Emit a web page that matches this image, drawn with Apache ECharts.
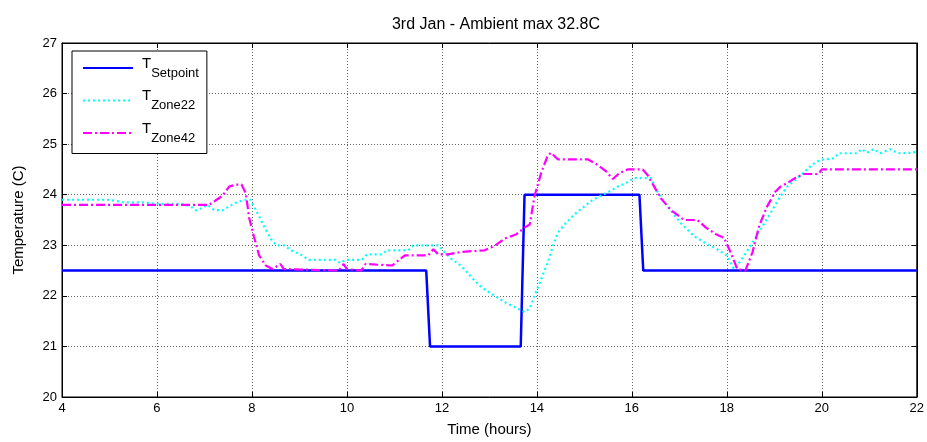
<!DOCTYPE html>
<html>
<head>
<meta charset="utf-8">
<script src="https://cdn.jsdelivr.net/npm/echarts@6/dist/echarts.min.js"></script>
<style>html,body{margin:0;padding:0;background:#fff}#c{width:927px;height:442px}</style>
</head>
<body>
<div id="c"></div>
<script>
var chartTitle = '3rd Jan - Ambient max 32.8C';
var xTicks = [4, 6, 8, 10, 12, 14, 16, 18, 20, 22];
var yTicks = [20, 21, 22, 23, 24, 25, 26, 27];

var setpointHours = [4, 11.67, 11.75, 13.66, 13.74, 16.16, 16.24, 22];
var setpointTemps = [22.5, 22.5, 21, 21, 24, 24, 22.5, 22.5];

var zone22Hours = [4, 4.5, 5.0, 5.3, 5.7, 6.0, 6.5, 6.71, 6.82, 6.96, 7.06, 7.2, 7.38, 7.52, 7.66, 7.83, 7.97, 8.15, 8.29, 8.43, 8.53, 8.67, 8.85, 9.02, 9.2, 9.76, 9.86, 9.97, 10.31, 10.42, 10.73, 10.84, 11.29, 11.4, 11.92, 12.2, 12.41, 12.62, 12.83, 13.11, 13.39, 13.6, 13.74, 13.85, 13.95, 14.09, 14.23, 14.34, 14.44, 14.62, 14.79, 15.0, 15.18, 15.39, 15.56, 15.7, 15.88, 16.05, 16.4, 16.54, 16.75, 17.03, 17.31, 17.59, 17.8, 18.01, 18.15, 18.29, 18.5, 18.71, 18.92, 19.13, 19.27, 19.44, 19.62, 19.79, 19.97, 20.25, 20.36, 20.74, 20.84, 20.95, 21.09, 21.23, 21.44, 21.61, 21.93, 22];
var zone22Temps = [23.9, 23.9, 23.9, 23.85, 23.85, 23.82, 23.82, 23.77, 23.69, 23.74, 23.8, 23.7, 23.69, 23.77, 23.84, 23.9, 23.9, 23.57, 23.31, 23.08, 23.0, 23.0, 22.89, 22.82, 22.71, 22.71, 22.65, 22.71, 22.71, 22.82, 22.82, 22.9, 22.9, 23.0, 23.0, 22.73, 22.59, 22.37, 22.17, 22.0, 21.84, 21.75, 21.68, 21.75, 22.0, 22.33, 22.66, 22.99, 23.25, 23.45, 23.61, 23.77, 23.9, 24.0, 24.08, 24.16, 24.23, 24.33, 24.33, 24.06, 23.77, 23.44, 23.18, 23.02, 22.92, 22.79, 22.53, 22.69, 22.99, 23.31, 23.64, 23.97, 24.16, 24.29, 24.44, 24.59, 24.69, 24.72, 24.82, 24.82, 24.9, 24.83, 24.9, 24.82, 24.9, 24.82, 24.83, 24.88];

var zone42Hours = [4, 7.1, 7.24, 7.38, 7.52, 7.66, 7.78, 7.87, 7.94, 8.04, 8.15, 8.29, 8.43, 8.6, 8.67, 9.83, 9.93, 10.0, 10.3, 10.39, 10.95, 11.22, 11.71, 11.82, 11.92, 12.13, 12.41, 12.9, 13.11, 13.32, 13.57, 13.74, 13.85, 13.95, 14.09, 14.23, 14.3, 14.44, 15.07, 15.28, 15.46, 15.6, 15.74, 15.91, 16.23, 16.33, 16.47, 16.61, 16.82, 17.1, 17.38, 17.56, 17.77, 17.94, 18.08, 18.22, 18.39, 18.54, 18.68, 18.85, 19.02, 19.13, 19.27, 19.44, 19.62, 19.93, 20.0, 22];
var zone42Temps = [23.8, 23.8, 23.89, 23.98, 24.16, 24.2, 24.2, 24.03, 23.55, 23.18, 22.8, 22.6, 22.53, 22.63, 22.53, 22.5, 22.63, 22.53, 22.5, 22.63, 22.6, 22.8, 22.8, 22.92, 22.82, 22.82, 22.87, 22.9, 22.99, 23.13, 23.22, 23.35, 23.41, 23.97, 24.43, 24.78, 24.83, 24.7, 24.7, 24.59, 24.46, 24.31, 24.43, 24.5, 24.5, 24.39, 24.16, 23.93, 23.7, 23.5, 23.5, 23.35, 23.22, 23.15, 22.86, 22.53, 22.5, 22.86, 23.38, 23.77, 24.06, 24.16, 24.23, 24.33, 24.41, 24.41, 24.5, 24.5];

var seriesNames = ['Setpoint', 'Zone22', 'Zone42'];

function pairs(xs, ys) { return xs.map(function (x, i) { return [x, ys[i]]; }); }

var FONT = 'Liberation Sans, Arial, sans-serif';
var chart = echarts.init(document.getElementById('c'), null, { renderer: 'canvas' });

var gridSplit = { show: true, lineStyle: { color: '#666', type: [1, 2], width: 1 } };

chart.setOption({
  animation: false,
  backgroundColor: '#fff',
  textStyle: { fontFamily: FONT },
  title: {
    text: chartTitle, left: 491, top: 12, textAlign: 'center',
    textStyle: { fontSize: 16, fontWeight: 'normal', color: '#000', fontFamily: FONT }
  },
  grid: { left: 62, right: 7, top: 43, bottom: 43, show: true, borderColor: '#000', borderWidth: 1, backgroundColor: '#fff' },
  legend: {
    orient: 'vertical', left: 72, top: 51,
    padding: [5, 8, 9, 10],
    itemGap: 9,
    itemWidth: 50, itemHeight: 14,
    borderColor: '#000', borderWidth: 1, backgroundColor: '#fff',
    itemStyle: { opacity: 0 },
    data: seriesNames,
    formatter: function (n) { return '{t|T}{s|' + n + '}'; },
    textStyle: {
      color: '#000', fontFamily: FONT,
      rich: {
        t: { fontSize: 15, fontFamily: FONT, color: '#000', padding: [0, 0, 9, 4] },
        s: { fontSize: 13, fontFamily: FONT, color: '#000', padding: [10, 0, 0, 0] }
      }
    }
  },
  xAxis: [{
    type: 'value', min: 4, max: 22, interval: 2, position: 'bottom',
    name: 'Time (hours)', nameLocation: 'middle', nameGap: 25,
    nameTextStyle: { fontSize: 15, color: '#000', fontFamily: FONT },
    axisLine: { show: true, lineStyle: { color: '#000', width: 1 } },
    axisTick: { show: true, inside: true, length: 5, lineStyle: { color: '#000' } },
    axisLabel: { fontSize: 13, color: '#000', margin: 5, fontFamily: FONT },
    splitLine: gridSplit
  }, {
    type: 'value', min: 4, max: 22, interval: 2, position: 'top',
    axisLine: { show: true, lineStyle: { color: '#000', width: 1 } },
    axisTick: { show: true, inside: true, length: 5, lineStyle: { color: '#000' } },
    axisLabel: { show: false }, splitLine: { show: false }
  }],
  yAxis: [{
    type: 'value', min: 20, max: 27, interval: 1, position: 'left',
    name: 'Temperature (C)', nameLocation: 'middle', nameGap: 36, nameRotate: 90,
    nameTextStyle: { fontSize: 15, color: '#000', fontFamily: FONT },
    axisLine: { show: true, lineStyle: { color: '#000', width: 1 } },
    axisTick: { show: true, inside: true, length: 5, lineStyle: { color: '#000' } },
    axisLabel: { fontSize: 13, color: '#000', margin: 5, fontFamily: FONT },
    splitLine: gridSplit
  }, {
    type: 'value', min: 20, max: 27, interval: 1, position: 'right',
    axisLine: { show: true, lineStyle: { color: '#000', width: 1 } },
    axisTick: { show: true, inside: true, length: 5, lineStyle: { color: '#000' } },
    axisLabel: { show: false }, splitLine: { show: false }
  }],
  series: [{
    name: 'Setpoint', type: 'line', xAxisIndex: 0, yAxisIndex: 0,
    data: pairs(setpointHours, setpointTemps), showSymbol: false, symbol: 'none',
    lineStyle: { color: '#0000ff', width: 2.5 }, itemStyle: { color: '#0000ff' }, z: 3
  }, {
    name: 'Zone22', type: 'line', xAxisIndex: 0, yAxisIndex: 0,
    data: pairs(zone22Hours, zone22Temps), showSymbol: false, symbol: 'none',
    lineStyle: { color: '#00ffff', width: 2.2, type: [2, 3] }, itemStyle: { color: '#00ffff' }, z: 4
  }, {
    name: 'Zone42', type: 'line', xAxisIndex: 0, yAxisIndex: 0,
    data: pairs(zone42Hours, zone42Temps), showSymbol: false, symbol: 'none',
    lineStyle: { color: '#ff00ff', width: 2.2, type: [9, 3, 2, 3] }, itemStyle: { color: '#ff00ff' }, z: 5
  }]
});
</script>
</body>
</html>
